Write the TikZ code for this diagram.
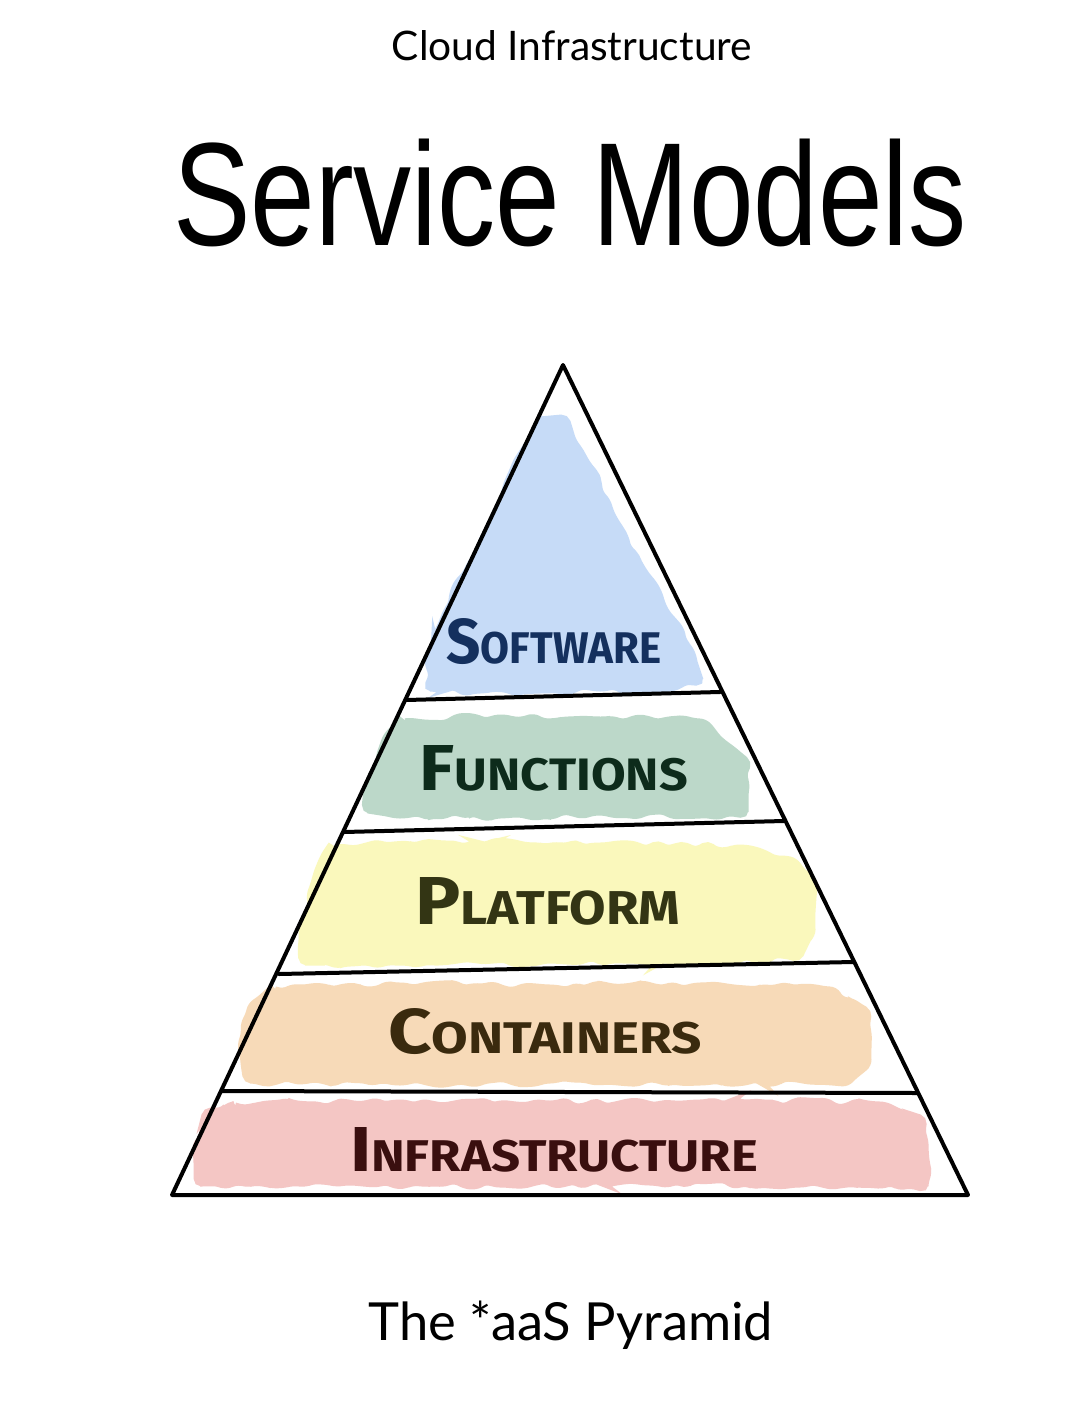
\documentclass[tikz,border=0pt]{standalone}
\usepackage{fontspec}
\usetikzlibrary{decorations.pathmorphing}
\newfontfamily\lato{Lato}
\newfontfamily\condsans{Liberation Sans}
\newfontfamily\handfont{Fira Sans}
\definecolor{swfill}{HTML}{C6DBF7}
\definecolor{fnfill}{HTML}{BCD8C9}
\definecolor{plfill}{HTML}{FAF8BC}
\definecolor{cofill}{HTML}{F7DAB8}
\definecolor{infill}{HTML}{F4C6C4}
\definecolor{swtext}{HTML}{14305E}
\definecolor{fntext}{HTML}{0D2B1B}
\definecolor{pltext}{HTML}{333514}
\definecolor{cotext}{HTML}{3A2A0E}
\definecolor{intext}{HTML}{3A0F0F}
\newcommand{\handlab}[4]{\resizebox{#3pt}{#4pt}{\handfont\bfseries{\fontsize{60}{60}\selectfont #1}{\fontsize{42}{42}\selectfont #2}}}
\tikzset{
  blob/.style={fill=#1, draw=#1, line width=7pt, decorate,
    decoration={random steps, segment length=10pt, amplitude=3.5pt},
    rounded corners=5pt},
  pyr/.style={draw=black, line width=4pt, line join=round, line cap=round},
  bandlab/.style={inner sep=0pt, anchor=center},
}
\begin{document}
\begin{tikzpicture}[x=1pt,y=-1pt]
\useasboundingbox (0,0) rectangle (1072,1402);
\fill[white] (0,0) rectangle (1072,1402);
\pgfmathsetseed{7}
% colour blobs
\path[blob=swfill] (540,420) -- (562,418) -- (585,460) -- (612,515) -- (640,565) -- (665,610) -- (690,650) -- (700,680) -- (660,690) -- (600,688) -- (540,690) -- (480,690) -- (430,688) -- (428,660) -- (445,615) -- (470,565) -- (495,515) -- (515,465) -- cycle;
\path[blob=fnfill] (400,722) -- (500,718) -- (600,720) -- (700,722) -- (720,740) -- (745,760) -- (745,812) -- (700,815) -- (600,812) -- (500,815) -- (400,815) -- (368,810) -- (370,780) -- (385,740) -- cycle;
\path[blob=plfill] (330,848) -- (450,844) -- (600,846) -- (740,848) -- (790,860) -- (812,880) -- (812,930) -- (800,955) -- (700,962) -- (550,960) -- (400,962) -- (305,962) -- (302,930) -- (315,880) -- cycle;
\path[blob=cofill] (270,990) -- (400,986) -- (550,988) -- (700,986) -- (830,990) -- (865,1010) -- (868,1060) -- (850,1080) -- (700,1082) -- (550,1080) -- (400,1082) -- (250,1080) -- (242,1050) -- (250,1010) -- cycle;
\path[blob=infill] (230,1106) -- (400,1103) -- (550,1104) -- (700,1103) -- (880,1105) -- (920,1118) -- (926,1160) -- (925,1186) -- (800,1184) -- (650,1182) -- (500,1184) -- (350,1182) -- (200,1183) -- (196,1150) -- (205,1115) -- cycle;
% pyramid outline
\draw[pyr] (563,365) -- (968,1195) -- (172,1195) -- cycle;
\draw[pyr] (406,700) -- (720,692);
\draw[pyr] (344,832) -- (784,821);
\draw[pyr] (279,974) -- (853,962);
\draw[pyr] (222,1091) -- (917,1093);
% labels
\node[bandlab, text=swtext] (sw) at (554,642) {\handlab{S}{OFTWARE}{215}{45}};
\node[bandlab, text=fntext] (fn) at (554,768) {\handlab{F}{UNCTIONS}{268}{45}};
\node[bandlab, text=pltext] (pl) at (548,901) {\handlab{P}{LATFORM}{265}{47}};
\node[bandlab, text=cotext] (co) at (545,1032) {\handlab{C}{ONTAINERS}{314}{45}};
\node[bandlab, text=intext] (in) at (554,1150) {\handlab{I}{NFRASTRUCTURE}{408}{44}};
% titles
\node[anchor=base, inner sep=0pt] (top) at (572,61) {\lato\fontsize{40.7}{40.7}\selectfont Cloud Infrastructure};
\node[anchor=base, inner sep=0pt] (title) at (570,245) {\scalebox{0.79}[1]{\condsans\fontsize{147}{147}\selectfont Service Models}};
\node[anchor=base, inner sep=0pt] (cap) at (571,1340) {\lato\fontsize{52.5}{52.5}\selectfont The *aaS Pyramid};
\end{tikzpicture}
\end{document}
